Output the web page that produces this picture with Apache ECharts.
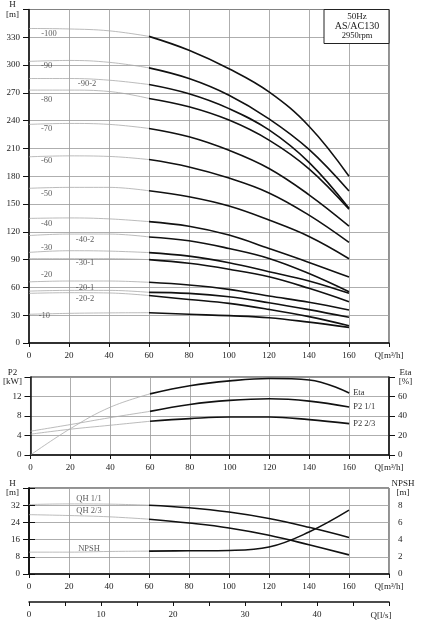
<!DOCTYPE html>
<html>
<head>
<meta charset="utf-8">
<script src="https://cdn.jsdelivr.net/npm/echarts@6/dist/echarts.min.js"></script>
<style>
  html, body { margin: 0; padding: 0; background: #fff; }
  #chart { width: 436px; height: 631px; }
</style>
</head>
<body>
<div id="chart"></div>
<script>
// flow points shared by all three panels, m3/h
var flowQ = [0, 20, 40, 60, 80, 100, 120, 140, 160];

// H-Q curves, one row per stage count
var stageNames = ['-100', '-90', '-90-2', '-80', '-70', '-60', '-50', '-40', '-40-2', '-30', '-30-1', '-20', '-20-1', '-20-2', '-10'];
var stageHeads = [
  [339.5, 339, 337, 331, 316, 296, 271, 234, 180],
  [304, 305, 303, 297, 285.5, 267.5, 242, 209, 164],
  [285.5, 285.5, 283.7, 279, 269, 253, 230, 195, 145.4],
  [273, 273, 271.5, 264, 255, 240.6, 219, 188, 144.3],
  [236, 237, 236, 231.6, 222.6, 208, 188.4, 160, 126.2],
  [201, 202, 201.4, 198, 190, 178, 162, 138, 108.6],
  [167, 168, 168, 164.3, 157.8, 147.8, 132.7, 115, 91],
  [134.5, 135, 134, 131, 126, 116.5, 102, 87, 71.2],
  [116, 117.6, 117.6, 114.5, 110.4, 102, 91.3, 75, 55.3],
  [97.8, 99.6, 99.2, 97.6, 93.8, 86.7, 77, 67, 53.6],
  [91, 91, 91, 90, 86, 79.6, 71.5, 59, 44.6],
  [66, 66.9, 66.9, 65.5, 62.6, 57.9, 50.7, 44, 35.6],
  [56, 56.8, 56.8, 54.7, 53.6, 50, 43.5, 36, 27.7],
  [53.6, 54.3, 54, 51.2, 47, 42.8, 36.3, 28.5, 18.7],
  [31, 32, 32.5, 32.7, 31, 29.5, 27.3, 22.5, 16.9]
];
// where each stage label sits, [Q, H]
var stageLabelAt = [
  [10, 333.7], [8.8, 299], [29, 280], [8.8, 263], [8.8, 231.6], [8.8, 196.7], [8.8, 161.5],
  [8.8, 129], [28, 111.9], [8.8, 103], [28, 87], [8.8, 73.4], [28, 60], [28, 48.2], [7.7, 29]
];

// power / efficiency panel
var etaPct = [0, 27, 49, 62.7, 71, 76, 78.5, 77, 63.5];
var p2Full = [4.88, 6.24, 7.66, 8.95, 10.37, 11.2, 11.53, 11.05, 9.83];
var p2TwoThirds = [4.27, 5.29, 6.1, 6.92, 7.46, 7.8, 7.8, 7.25, 6.44];

// single stage head + NPSH panel
var headFull = [32.3, 32.6, 32.5, 32, 30.8, 28.8, 25.8, 21.7, 17];
var headTwoThirds = [27.6, 27.2, 26.6, 25.5, 23.7, 21.4, 18, 13.6, 8.9];
var npshReq = [2.54, 2.54, 2.62, 2.66, 2.7, 2.74, 3.13, 4.88, 7.42];
var bottomNames = ['QH 1/1', 'QH 2/3', 'NPSH'];
var bottomLabelAt = [[30, 35.1], [30, 29.2], [30, 11.9]];

var FONT = 'Liberation Serif';
var INK = '#222';

var chart = echarts.init(document.getElementById('chart'));

function pairs(values, from, to) {
  var out = [];
  for (var k = from; k <= to; k++) out.push([flowQ[k], values[k]]);
  return out;
}

function xAxisFor(gridIndex) {
  return {
    type: 'value', gridIndex: gridIndex, min: 0, max: 180, interval: 20,
    axisLine: { show: true, onZero: false, lineStyle: { color: '#111', width: 1.5 } },
    axisTick: { show: true, length: 4, lineStyle: { color: '#111' } },
    axisLabel: {
      fontFamily: FONT, fontSize: 9, color: INK, margin: 8, showMaxLabel: true,
      formatter: function (v) { return v === 180 ? 'Q[m³/h]' : v; }
    },
    splitLine: { show: true, lineStyle: { color: '#999', width: 0.8 } }
  };
}

function yAxisFor(gridIndex, max, interval, top, bottom, nameWidth, right, margin, pad) {
  return {
    type: 'value', gridIndex: gridIndex, min: 0, max: max, interval: interval,
    position: right ? 'right' : 'left',
    axisLine: { show: true, lineStyle: { color: '#111', width: 1.5 } },
    axisTick: { show: true, length: 6, lineStyle: { color: '#111' } },
    axisLabel: {
      fontFamily: FONT, fontSize: 9, color: INK, margin: margin, showMaxLabel: true,
      formatter: function (v) {
        if (v === max) return '{n|' + top + '}\n{n|' + bottom + '}';
        return pad ? '{v|' + v + '}' : String(v);
      },
      rich: {
        n: { width: nameWidth, align: 'center', lineHeight: 9.5, fontFamily: FONT, fontSize: 9, color: INK },
        v: { padding: [0, 0, 0, pad || 0], fontFamily: FONT, fontSize: 9, color: INK }
      }
    },
    splitLine: { show: !right, lineStyle: { color: '#999', width: 0.8 } }
  };
}

var grayLine = { color: '#aaa', width: 0.8 };
var blackLine = { color: '#111', width: 1.6 };
var curveLabel = { fontFamily: FONT, fontSize: 8.5, color: '#333' };

function curve(values, xi, yi, name) {
  var s = [{
    type: 'line', xAxisIndex: xi, yAxisIndex: yi, data: pairs(values, 0, 3),
    smooth: 0.4, showSymbol: false, silent: true, lineStyle: grayLine
  }, {
    type: 'line', xAxisIndex: xi, yAxisIndex: yi, data: pairs(values, 3, 8),
    smooth: 0.4, showSymbol: false, silent: true, lineStyle: blackLine
  }];
  if (name) {
    s[1].endLabel = Object.assign({ show: true, formatter: name, distance: 4 }, curveLabel);
  }
  return s;
}

function textSeries(names, at, xi, yi) {
  return {
    type: 'scatter', xAxisIndex: xi, yAxisIndex: yi, symbolSize: 1, silent: true,
    itemStyle: { color: 'rgba(0,0,0,0)' },
    label: Object.assign({ show: true, position: 'inside' }, curveLabel),
    data: at.map(function (p, i) {
      return { value: p, label: { formatter: names[i] } };
    })
  };
}

var series = [];
stageHeads.forEach(function (h) {
  series = series.concat(curve(h, 0, 0));
});
series.push(textSeries(stageNames, stageLabelAt, 0, 0));

series = series.concat(curve(etaPct, 1, 2, 'Eta'));
series = series.concat(curve(p2Full, 1, 1, 'P2 1/1'));
series = series.concat(curve(p2TwoThirds, 1, 1, 'P2 2/3'));

series = series.concat(curve(headFull, 2, 3));
series = series.concat(curve(headTwoThirds, 2, 3));
series = series.concat(curve(npshReq, 2, 4));
series.push(textSeries(bottomNames, bottomLabelAt, 2, 3));

var frame = { show: true, borderColor: '#222', borderWidth: 1, left: 29, right: 47 };

// second flow scale in l/s under the bottom panel
var litreAxis = {
  type: 'value', gridIndex: 2, min: 0, max: 50, interval: 5,
  position: 'bottom', offset: 28,
  name: 'Q[l/s]', nameLocation: 'end', nameGap: -8,
  nameTextStyle: { fontFamily: FONT, fontSize: 9, color: INK, align: 'center', verticalAlign: 'top', padding: [9, 0, 0, 0] },
  axisLine: { show: true, onZero: false, lineStyle: { color: '#111', width: 1.5 } },
  axisTick: { show: true, length: 4, lineStyle: { color: '#111' } },
  axisLabel: {
    fontFamily: FONT, fontSize: 9, color: INK, margin: 8,
    formatter: function (v) {
      var r = Math.round(v);
      return r % 10 === 0 && r < 50 ? String(r) : '';
    }
  },
  splitLine: { show: false }
};

var option = {
  animation: false,
  backgroundColor: '#fff',
  grid: [
    Object.assign({ top: 9.5, bottom: 288 }, frame),
    Object.assign({ top: 377, bottom: 176 }, frame),
    Object.assign({ top: 488, bottom: 57 }, frame)
  ],
  xAxis: [xAxisFor(0), xAxisFor(1), xAxisFor(2), litreAxis],
  yAxis: [
    yAxisFor(0, 360, 30, 'H', '[m]', 15, false, 9),
    yAxisFor(1, 16, 4, 'P2', '[kW]', 18, false, 9),
    yAxisFor(1, 80, 20, 'Eta', '[%]', 15, true, 9),
    yAxisFor(2, 40, 8, 'H', '[m]', 15, false, 9),
    yAxisFor(2, 10, 2, 'NPSH', '[m]', 24, true, 2, 7)
  ],
  graphic: [
    {
      type: 'rect', z: 100,
      shape: { x: 324, y: 9.5, width: 65, height: 34 },
      style: { fill: '#fff', stroke: '#222', lineWidth: 1 }
    },
    {
      type: 'text', z: 101, x: 357, y: 17,
      style: { text: '50Hz', fontFamily: FONT, fontSize: 9, fill: INK, align: 'center', verticalAlign: 'middle' }
    },
    {
      type: 'text', z: 101, x: 357, y: 26.5,
      style: { text: 'AS/AC130', fontFamily: FONT, fontSize: 10, fill: INK, align: 'center', verticalAlign: 'middle' }
    },
    {
      type: 'text', z: 101, x: 357, y: 35.5,
      style: { text: '2950rpm', fontFamily: FONT, fontSize: 8.5, fill: INK, align: 'center', verticalAlign: 'middle' }
    }
  ],
  series: series
};

chart.setOption(option);
</script>
</body>
</html>
